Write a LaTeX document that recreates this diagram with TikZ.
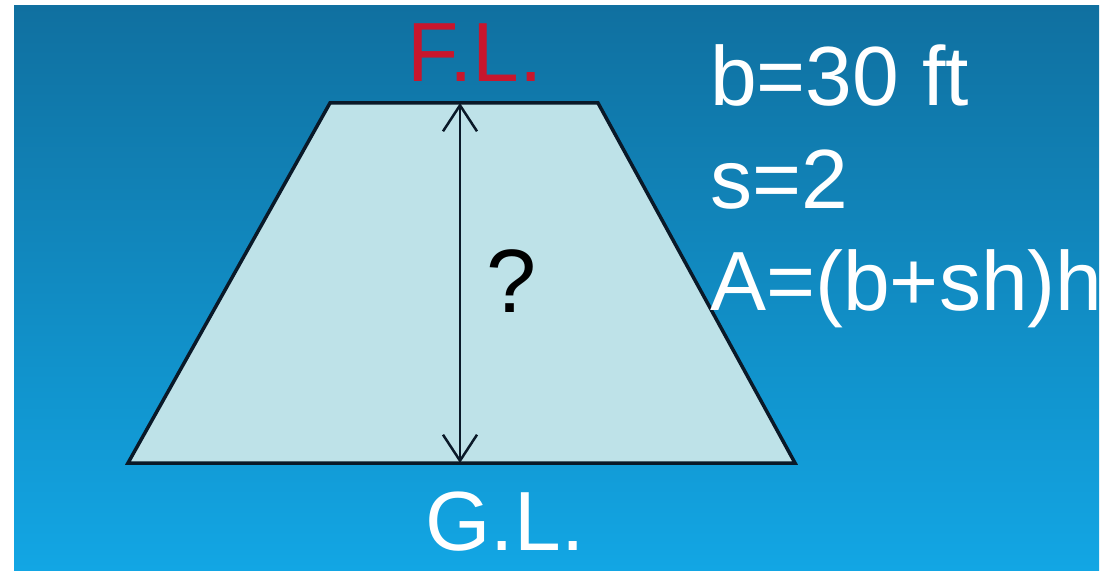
\documentclass[tikz,border=0pt]{standalone}
\usepackage{fontspec}
\setmainfont{Liberation Sans}
\usetikzlibrary{arrows.meta}
\definecolor{bgtop}{RGB}{16,112,160}
\definecolor{bgbot}{RGB}{18,166,228}
\definecolor{trapfill}{RGB}{190,226,232}
\definecolor{edgecol}{RGB}{10,25,40}
\definecolor{flred}{RGB}{200,22,45}
\tikzset{
  big/.style={font=\fontsize{84}{90}\selectfont, inner sep=0pt},
  lbl/.style={big, text=white, anchor=base west},
  barbtip/.tip={Straight Barb[length=26pt,width=34pt,line width=2.5pt]},
}
\begin{document}
\begin{tikzpicture}[x=1pt,y=-1pt]
\useasboundingbox (0,0) rectangle (1101,575);
\fill[white] (0,0) rectangle (1101,575);
\shade[top color=bgtop, bottom color=bgbot] (14,6) rectangle (1099,570);
\coordinate (tl) at (330,103);
\coordinate (tr) at (598,103);
\coordinate (br) at (795,463);
\coordinate (bl) at (128,463);
\filldraw[fill=trapfill, draw=edgecol, line width=3.5pt, line join=miter] (tl) -- (tr) -- (br) -- (bl) -- cycle;
\coordinate (atop) at (460,103);
\coordinate (abot) at (460,463);
\draw[edgecol, line width=2.5pt, {barbtip}-{barbtip}] (atop) -- (abot);
\node[big, anchor=base, font=\fontsize{90}{96}\selectfont] (q) at (512,312) {?};
\node[big, text=flred, anchor=base] (fl) at (475,82) {F.L.};
\node[big, text=white, anchor=base] (gl) at (505,550) {G.L.};
\node[lbl] (b) at (710,106) {b=30 ft};
\node[lbl] (s) at (710,208) {s=2};
\node[lbl] (a) at (710,310) {A=(b+sh)h};
\end{tikzpicture}
\end{document}
